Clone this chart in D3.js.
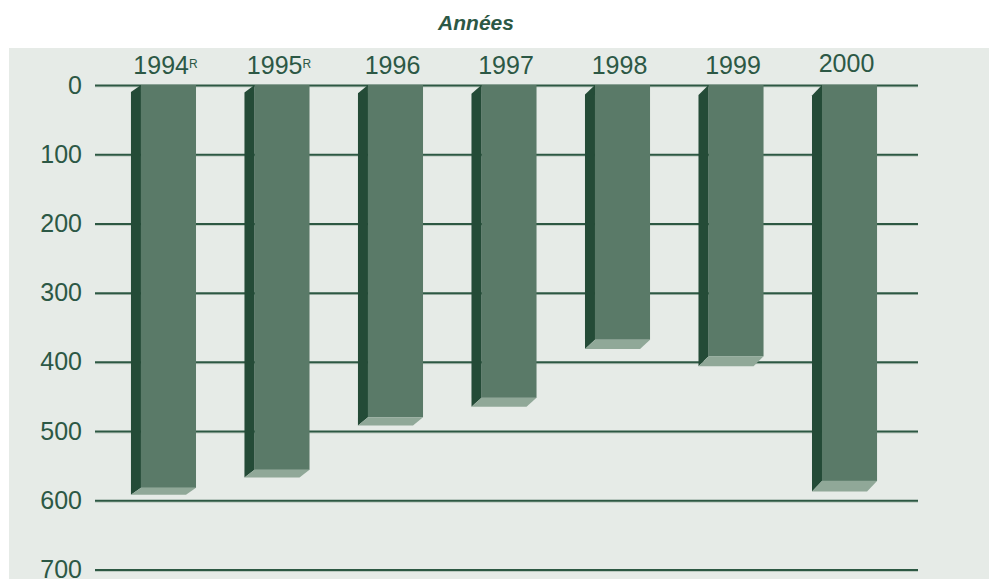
<!DOCTYPE html>
<html>
<head>
<meta charset="utf-8">
<script src="https://cdn.jsdelivr.net/npm/d3@7"></script>
<style>
  body { margin: 0; background: #ffffff; }
  svg text { font-family: "Liberation Sans", Arial, sans-serif; fill: #2c5845; }
</style>
</head>
<body>
<svg id="chartSVG" width="989" height="579"></svg>
<script>
/**
 * The data
 */
const years = ["1994", "1995", "1996", "1997", "1998", "1999", "2000"];
const revised = ["R", "R", "", "", "", "", ""];
const values = [582, 556, 480, 452, 368, 392, 572];
const yTicks = [0, 100, 200, 300, 400, 500, 600, 700];

/**
 * Layout and colours
 */
const plotLeft = 95, plotRight = 918;
const frontColor = "#5a7a68", sideColor = "#244b37", bottomColor = "#90a898";
const gridColor = "#2d5843";
const sideWidth = 10;

const svg = d3.select("#chartSVG");

// panel background
svg.append("rect")
  .attr("x", 9).attr("y", 48)
  .attr("width", 989 - 9).attr("height", 579 - 48)
  .attr("fill", "#e6ebe7");

// title
svg.append("text")
  .attr("x", 476).attr("y", 30)
  .attr("text-anchor", "middle")
  .style("font-size", "21px")
  .style("font-weight", "bold")
  .style("font-style", "italic")
  .text("Années");

// scales (value axis runs downward)
const y = d3.scaleLinear().domain([0, 700]).range([85, 569.5]);
const x = d3.scaleBand().domain(years).range([82.5, 935.5]).padding(0.515);

// grid lines with a light edge under each one
svg.append("g")
  .selectAll("line")
  .data(yTicks)
  .join("line")
  .attr("x1", plotLeft).attr("x2", plotRight)
  .attr("y1", d => y(d) + 1.8).attr("y2", d => y(d) + 1.8)
  .attr("stroke", "#b3c2b8").attr("stroke-width", 1);

const yAxis = d3.axisLeft(y)
  .tickValues(yTicks)
  .tickSize(-(plotRight - plotLeft))
  .tickPadding(13);

const axisGroup = svg.append("g")
  .attr("transform", `translate(${plotLeft},0)`)
  .call(yAxis);
axisGroup.select(".domain").remove();
axisGroup.selectAll(".tick line")
  .attr("stroke", gridColor).attr("stroke-width", 2);
axisGroup.selectAll(".tick text")
  .attr("fill", "#2c5845")
  .style("font-size", "25px")
  .style("font-family", "Liberation Sans, Arial, sans-serif");

// bars with a dark side face and a light bottom face
const bars = svg.append("g")
  .selectAll("g")
  .data(years.map((year, i) => ({ year: year, value: values[i], i: i })))
  .join("g");

function depth(d) {
  return 7 + d.i * 0.6;
}

bars.append("rect")
  .attr("x", d => x(d.year))
  .attr("y", y(0))
  .attr("width", x.bandwidth())
  .attr("height", d => y(d.value) - y(0))
  .attr("fill", frontColor);

bars.append("path")
  .attr("fill", sideColor)
  .attr("d", d => {
    const x0 = x(d.year), dy = depth(d);
    return `M${x0},${y(0)} L${x0 - sideWidth},${y(0) + dy} L${x0 - sideWidth},${y(d.value) + dy} L${x0},${y(d.value)} Z`;
  });

bars.append("path")
  .attr("fill", bottomColor)
  .attr("d", d => {
    const x0 = x(d.year), x1 = x0 + x.bandwidth(), yv = y(d.value), dy = depth(d);
    return `M${x0},${yv} L${x1},${yv} L${x1 - sideWidth},${yv + dy} L${x0 - sideWidth},${yv + dy} Z`;
  });

// year labels above the bars (2000 sits a little higher in the original)
const labels = svg.append("g")
  .selectAll("text")
  .data(years.map((year, i) => ({ year: year, mark: revised[i] })))
  .join("text")
  .attr("x", d => x(d.year) + x.bandwidth() / 2 - 3)
  .attr("y", d => d.year === "2000" ? 72 : 74)
  .attr("text-anchor", "middle")
  .style("font-size", "25px");

labels.append("tspan").text(d => d.year);
labels.filter(d => d.mark !== "")
  .append("tspan")
  .attr("dy", -6)
  .style("font-size", "12px")
  .text(d => d.mark);
</script>
</body>
</html>
